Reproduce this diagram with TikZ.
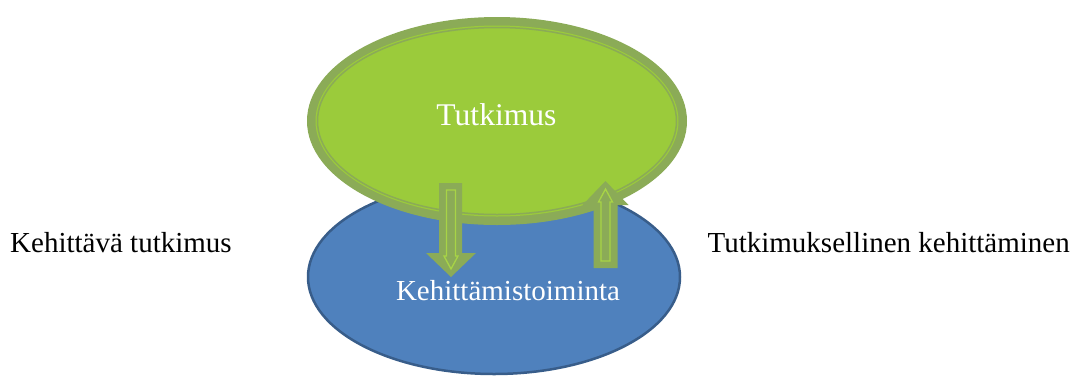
\documentclass[tikz,border=0pt]{standalone}
\usepackage{fontspec}
\setmainfont{Liberation Serif}
\definecolor{fillgreen}{RGB}{155,203,59}
\definecolor{olivegreen}{RGB}{139,171,87}
\definecolor{lightline}{RGB}{168,212,70}
\definecolor{fillblue}{RGB}{79,129,189}
\definecolor{darkblue}{RGB}{56,93,138}
\tikzset{
  lbl/.style={inner sep=0pt, font=\fontsize{29}{34}\selectfont},
  wlbl/.style={lbl, text=white},
  blockarrow/.style={fill=olivegreen},
  innerarrow/.style={draw=lightline, line width=1.3pt, line join=miter}
}
\begin{document}
\begin{tikzpicture}[x=1pt,y=-1pt]
\useasboundingbox (0,0) rectangle (1076,376);
% blue ellipse
\fill[fillblue, draw=darkblue, line width=2.5pt] (494,277) ellipse [x radius=186, y radius=97];
% green ellipse with double border
\fill[olivegreen] (497,121) ellipse [x radius=190, y radius=104];
\fill[fillgreen] (497,121) ellipse [x radius=181.5, y radius=95.5];
\draw[olivegreen, line width=1.5pt] (497,121) ellipse [x radius=179.5, y radius=93.5];
% down arrow
\fill[blockarrow] (439,183) -- (462,183) -- (462,253) -- (476,253) -- (451,277) -- (426,253) -- (439,253) -- cycle;
\draw[innerarrow] (446.5,190) -- (455.5,190) -- (455.5,256) -- (458,256) -- (451,269) -- (444,256) -- (446.5,256) -- cycle;
% up arrow
\fill[blockarrow] (593.5,268) -- (617.5,268) -- (617.5,205) -- (628.5,205) -- (605.5,181) -- (582.5,205) -- (593.5,205) -- cycle;
\draw[innerarrow] (601,261) -- (610,261) -- (610,202) -- (612.5,202) -- (605.5,189) -- (598.5,202) -- (601,202) -- cycle;
% texts
\node[wlbl, anchor=base, font=\fontsize{31.6}{36}\selectfont] (tut) at (496.5,125) {Tutkimus};
\node[wlbl, anchor=base] (keh) at (508,300) {Kehittämistoiminta};
\node[lbl, anchor=base west] (left) at (10,252) {Kehittävä tutkimus};
\node[lbl, anchor=base east] (right) at (1070,252) {Tutkimuksellinen kehittäminen};
\end{tikzpicture}
\end{document}
